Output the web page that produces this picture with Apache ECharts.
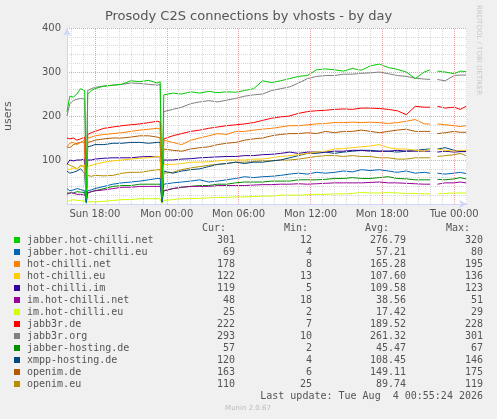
<!DOCTYPE html>
<html><head><meta charset="utf-8">
<script src="https://cdn.jsdelivr.net/npm/echarts@6/dist/echarts.min.js"></script>
<style>html,body{margin:0;padding:0;background:#f0f0f0}#c{width:497px;height:419px}</style>
</head><body><div id="c"></div>
<script>
// hours relative to Sun 18:00
const times = [-2.33,-2.1,-1.8,-1.5,-1.2,-0.85,-0.72,-0.6,-0.3,0,
 0.75,1.5,2.25,3,3.75,4.5,5.2,5.45,5.6,5.75,
 6.5,7.25,8,8.75,9.5,10.25,11,11.75,12.5,13.25,
 14,14.75,15.5,16.25,17,17.75,18.5,19.25,20,20.75,
 21.5,22.25,23,23.75,24.5,25.25,26,26.75,27.5,28.0,
 28.3,28.6,29.25,30,30.5,31.0];
const xTickValues = [0,6,12,18,24,30];
const xTickLabels = ['Sun 18:00','Mon 00:00','Mon 06:00','Mon 12:00','Mon 18:00','Tue 00:00'];
const yTickValues = [100,200,300,400];

const names = ['jabber.hot-chilli.net','jabber.hot-chilli.eu','hot-chilli.net','hot-chilli.eu','hot-chilli.im','im.hot-chilli.net','im.hot-chilli.eu','jabb3r.de','jabb3r.org','jabber-hosting.de','xmpp-hosting.de','openim.de','openim.eu'];
const colors = ['#00cc00','#0066b3','#ff8000','#ffcc00','#330099','#990099','#ccff00','#ff0000','#808080','#008f00','#00487d','#b35a00','#b38f00'];
const cur = ['301','69','178','122','119','48','25','222','293','57','120','163','110'];
const mins = ['12','4','8','13','5','18','2','7','10','2','4','6','25'];
const avgs = ['276.79','57.21','165.28','107.60','109.58','38.56','17.42','189.52','261.32','45.47','108.45','149.11','89.74'];
const maxs = ['320','80','195','136','123','51','29','228','301','67','146','175','119'];

const jabberHotChilliNet = [210,245,243,250,262,258,12,250,258,262, 268,270,272,280,278,281,275,278,15,248, 252,250,255,252,256,253,255,254,258,262, 280,276,280,285,290,292,305,307,305,302, 308,304,314,318,310,306,300,285,300,305, null,302,300,296,302,301];
const jabberHotChilliEu = [35,30,32,35,33,30,4,30,32,35, 40,45,48,50,52,55,58,58,4,45, 48,50,52,55,50,52,55,58,62,60, 62,63,65,68,70,68,72,70,72,75, 73,78,76,78,75,72,75,70,72,70, null,70,68,70,72,69];
const hotChilliNet = [130,138,140,135,140,145,8,150,152,155, 158,160,162,165,168,170,172,170,8,145, 140,135,145,150,155,160,158,165,165,168, 170,172,175,178,178,180,182,183,185,185, 186,185,186,185,183,185,188,192,182,182, null,182,180,178,176,178];
const hotChilliEu = [80,78,82,80,85,88,13,85,88,90, 95,98,100,102,104,105,108,108,13,90, 90,92,95,95,96,98,100,100,100,102, 102,105,108,110,112,115,118,120,125,126, 128,130,132,135,128,125,125,122,120,125, null,125,122,120,122,122];
const hotChilliIm = [90,100,98,100,100,102,5,100,100,102, 104,105,105,105,107,108,107,108,5,100, 100,102,103,105,106,107,108,108,110,110, 112,113,115,118,115,118,118,118,120,120, 122,122,120,120,120,122,120,120,120,120, null,118,120,118,119,119];
const imHotChilliNet = [22,25,25,22,22,20,18,25,28,30, 32,35,38,38,40,40,40,40,20,30, 35,38,40,40,40,42,42,42,42,43, 44,44,45,45,46,45,46,47,48,48, 48,48,49,50,48,48,47,46,45,45, null,45,48,48,50,48];
const imHotChilliEu = [5,8,10,8,8,6,2,5,5,5, 6,8,10,10,12,12,12,12,2,8, 10,12,12,13,14,15,15,16,16,17, 18,18,20,20,20,21,22,22,23,23, 24,26,25,25,26,25,24,24,23,23, null,23,24,25,25,25];
const jabb3rDe = [150,148,150,145,148,152,7,158,162,165, 172,175,178,180,182,185,188,186,7,148, 155,160,165,168,172,175,178,180,182,185, 190,195,198,200,206,210,212,213,215,216, 215,218,218,217,215,212,203,222,220,220, null,222,218,220,215,222];
const jabb3rOrg = [200,228,235,238,240,238,10,258,262,265, 268,270,272,275,274,272,270,272,10,210, 215,220,228,232,235,232,236,240,245,248, 250,258,262,266,275,285,290,292,292,295, 295,297,298,300,296,292,290,286,284,283, null,283,280,292,293,293];
const jabberHostingDe = [25,25,25,28,27,26,2,25,28,30, 35,40,42,42,45,45,45,45,2,30, 35,38,40,42,42,45,45,48,50,50, 50,52,52,52,55,55,55,56,58,58, 60,58,58,60,62,58,57,55,55,55, null,56,55,57,60,57];
const xmppHostingDe = [75,70,72,75,80,70,4,130,132,135, 135,138,138,140,140,138,140,140,4,75, 70,75,78,80,85,90,92,95,92,95, 95,98,100,105,110,115,115,118,115,118, 120,122,122,120,120,118,120,122,124,125, null,125,128,122,120,120];
const openimDe = [130,128,135,138,140,142,6,140,142,145, 148,150,150,152,155,155,152,150,6,125, 122,120,125,128,130,135,138,140,145,148, 150,155,158,160,160,162,160,165,162,165, 165,168,165,162,165,168,170,165,165,165, null,160,162,165,163,163];
const openimEu = [92,88,85,80,88,85,25,65,63,65, 64,65,70,72,72,75,78,78,25,70, 72,78,82,85,88,90,92,95,95,97, 98,98,100,100,102,105,108,110,110,108, 110,108,108,105,105,102,102,105,105,105, null,108,110,112,115,110];

const values = [jabberHotChilliNet,jabberHotChilliEu,hotChilliNet,hotChilliEu,hotChilliIm,imHotChilliNet,imHotChilliEu,jabb3rDe,jabb3rOrg,jabberHostingDe,xmppHostingDe,openimDe,openimEu];

const X0=-2.33, X1=31.07;
const vLines=[];
for(let h=-2;h<=31;h++){ vLines.push({xAxis:h, lineStyle:{color: h%6===0?'#f3a0a0':'#d8d8d8', type:'dotted', width:1}}); }

const series=[{type:'line',data:[[X0,0]],silent:true,z:0,showSymbol:false,lineStyle:{opacity:0},
  markLine:{silent:true,symbol:'none',label:{show:false},animation:false,data:vLines}}];
for(let i=values.length-1;i>=0;i--){
  series.push({name:names[i],type:'line',showSymbol:false,connectNulls:false,z:2,
    lineStyle:{width:1,color:colors[i]},itemStyle:{color:colors[i]},
    data:times.map((t,k)=>[t,values[i][k]])});
}

const chart=echarts.init(document.getElementById('c'));
const mono='DejaVu Sans Mono', sans='DejaVu Sans';
const g=[];
g.push({type:'text',left:'center',top:10,style:{text:'Prosody C2S connections by vhosts - by day',font:'13px '+sans,fill:'#555'}});
g.push({type:'text',x:3,y:131,rotation:Math.PI/2,style:{text:'users',font:'11px '+sans,fill:'#555'}});
g.push({type:'text',x:482,y:5,rotation:-Math.PI/2,style:{text:'RRDTOOL / TOBI OETIKER',font:'7px '+sans,fill:'#c8c8c8'}});
const hdr=[['Cur:',226],['Min:',308],['Avg:',389],['Max:',470]];
hdr.forEach(h=>g.push({type:'text',x:h[1],y:228,style:{text:h[0],font:'10px '+mono,fill:'#555',align:'right',verticalAlign:'middle'}}));
names.forEach((n,i)=>{
  const y=240+12*i;
  g.push({type:'rect',shape:{x:14,y:y-3,width:6,height:6},style:{fill:colors[i]}});
  g.push({type:'text',x:27,y:y,style:{text:n,font:'10px '+mono,fill:'#555',verticalAlign:'middle'}});
  [[cur,235],[mins,312],[avgs,406],[maxs,483]].forEach(c=>g.push({type:'text',x:c[1],y:y,style:{text:c[0][i],font:'10px '+mono,fill:'#555',align:'right',verticalAlign:'middle'}}));
});
g.push({type:'text',x:483,y:396,style:{text:'Last update: Tue Aug  4 00:55:24 2026',font:'10px '+mono,fill:'#555',align:'right',verticalAlign:'middle'}});
g.push({type:'text',x:248,y:408,style:{text:'Munin 2.0.67',font:'7px '+sans,fill:'#bbb',align:'center',verticalAlign:'middle'}});

chart.setOption({
  animation:false,backgroundColor:'#f0f0f0',
  grid:{left:67,right:30,top:28,bottom:215,backgroundColor:'#fff',show:true,borderWidth:0},
  xAxis:{type:'value',min:X0,max:X1,
    axisLine:{onZero:false,lineStyle:{color:'#cfd6f8'},symbol:['none','arrow'],symbolSize:[6,8]},
    axisTick:{show:false},splitLine:{show:false},
    axisLabel:{customValues:xTickValues,color:'#555',fontFamily:sans,fontSize:10,margin:5,
      formatter:v=>{const k=xTickValues.indexOf(v);return k>=0?xTickLabels[k]:'';}}},
  yAxis:{type:'value',min:0,max:400,interval:20,
    axisLine:{show:true,onZero:false,lineStyle:{color:'#cfd6f8'},symbol:['none','arrow'],symbolSize:[6,8]},
    axisTick:{show:false},
    splitLine:{show:true,lineStyle:{type:'dotted',color:['#f3a0a0','#d8d8d8','#d8d8d8','#d8d8d8','#d8d8d8']}},
    axisLabel:{color:'#555',fontFamily:sans,fontSize:10,margin:6,
      formatter:v=>yTickValues.indexOf(v)>=0?String(v):''}},
  series:series,
  graphic:g
});
</script></body></html>
